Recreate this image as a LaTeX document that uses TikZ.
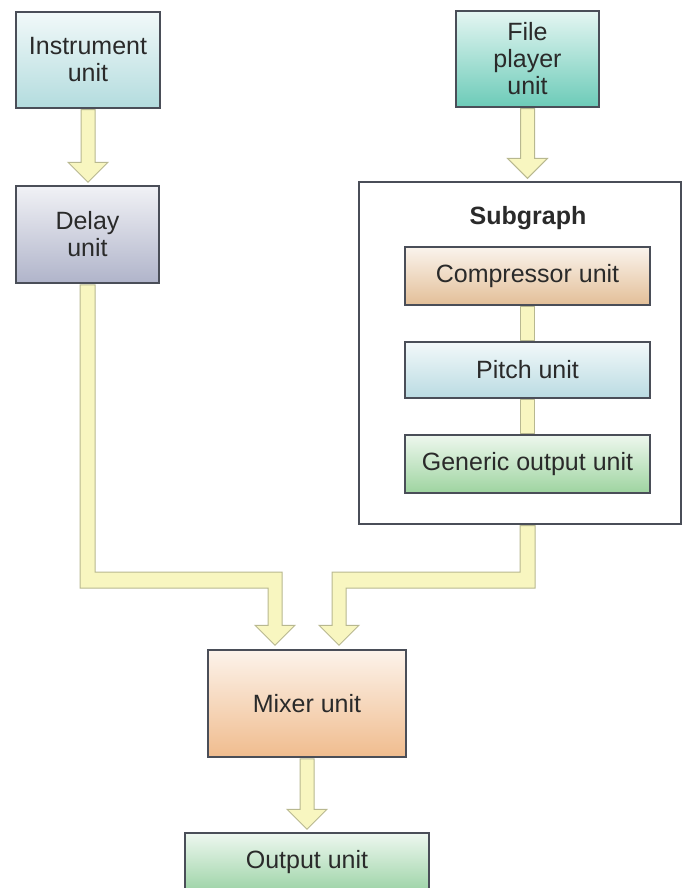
\documentclass[tikz,border=0pt]{standalone}
\usepackage{fontspec}
\setmainfont{Liberation Sans}
\usepackage{tikz}
\usetikzlibrary{calc}
\usetikzlibrary{positioning}

\definecolor{instcol}{HTML}{B3DCDE}
\definecolor{filecol}{HTML}{6CCBB8}
\definecolor{delaycol}{HTML}{B0B4CA}
\definecolor{compcol}{HTML}{E3BF98}
\definecolor{pitchcol}{HTML}{BADBE2}
\definecolor{gencol}{HTML}{9ED4A0}
\definecolor{mixcol}{HTML}{F0BC8E}
\definecolor{outcol}{HTML}{9ED4A8}
\definecolor{linkfill}{HTML}{F8F6C0}
\definecolor{linkline}{HTML}{B8B890}
\definecolor{boxline}{HTML}{4A4E58}
\definecolor{labeltext}{HTML}{2A2A2A}

\tikzset{
  unitbox/.style={draw=boxline, line width=1.5pt, top color=#1!18!white, bottom color=#1,
    inner sep=0pt, align=center, text=labeltext},
  fatlink/.style={fill=linkfill, draw=linkline, line width=1pt, line join=miter},
}

% fat downward arrow from #1 to the tip above #2
\newcommand{\fatdown}[2]{%
  \filldraw[fatlink] ($(#1)+(-7,1)$) -- ($(#1 |- #2)+(-7,-23)$) -- ($(#1 |- #2)+(-20,-23)$)
    -- ($(#1 |- #2)+(0,-3)$) -- ($(#1 |- #2)+(20,-23)$) -- ($(#1 |- #2)+(7,-23)$)
    -- ($(#1)+(7,1)$) -- cycle;}

\begin{document}
\begin{tikzpicture}[x=1pt, y=-1pt, font=\fontsize{25}{27}\selectfont]
      \useasboundingbox (0, 0) rectangle (683, 888);

      \node [unitbox=instcol, minimum width=144, minimum height=96] (inst) at (88, 60) {Instrument\\unit};
      \node [unitbox=delaycol, minimum width=143, minimum height=97] (delay) at (87.5, 234.5) {Delay\\unit};
      \node [unitbox=filecol, minimum width=143, minimum height=96] (file) at (527.5, 59) {File\\player\\unit};

      \node [draw=boxline, line width=1.2pt, fill=white, minimum width=322, minimum height=342, inner sep=0pt] (sub) at (520, 353) {};
      \node [text=labeltext, font=\fontsize{25}{27}\selectfont\bfseries] (subtitle) at (528, 218) {Subgraph};
      \node [unitbox=compcol, minimum width=245, minimum height=58] (comp) at (527.5, 276) {Compressor unit};
      \node [unitbox=pitchcol, minimum width=245, minimum height=56] (pitch) at (527.5, 370) {Pitch unit};
      \node [unitbox=gencol, minimum width=245, minimum height=58] (gen) at (527.5, 464) {Generic output unit};

      \node [unitbox=mixcol, minimum width=198, minimum height=107] (mixer) at (307, 703.5) {Mixer unit};
      \node [unitbox=outcol, minimum width=244, minimum height=58] (out) at (307, 862) {Output unit};

      \fatdown{inst.south}{delay.north}
      \fatdown{file.south}{sub.north}
      \fatdown{mixer.south}{out.north}

      % links inside the subgraph
      \filldraw [fatlink] ($(comp.south)+(-7,1)$) rectangle ($(pitch.north)+(7,-1)$);
      \filldraw [fatlink] ($(pitch.south)+(-7,1)$) rectangle ($(gen.north)+(7,-1)$);

      % merging links into the mixer
      \coordinate (bend) at (0, 580);
      \coordinate (ltip) at ($(mixer.north)+(-32,-4)$);
      \coordinate (rtip) at ($(mixer.north)+(32,-4)$);
      \coordinate (subout) at (gen.south |- sub.south);
      \filldraw [fatlink] ($(delay.south)+(-7.5,1)$) -- ($(delay.south |- bend)+(-7.5,8)$) -- ($(ltip |- bend)+(-7,8)$)
        -- ($(ltip)+(-7,-20)$) -- ($(ltip)+(-20,-20)$) -- (ltip) -- ($(ltip)+(20,-20)$) -- ($(ltip)+(7,-20)$)
        -- ($(ltip |- bend)+(7,-8)$) -- ($(delay.south |- bend)+(7.5,-8)$) -- ($(delay.south)+(7.5,1)$) -- cycle;
      \filldraw [fatlink] ($(subout)+(7.5,1)$) -- ($(subout |- bend)+(7.5,8)$) -- ($(rtip |- bend)+(7,8)$)
        -- ($(rtip)+(7,-20)$) -- ($(rtip)+(20,-20)$) -- (rtip) -- ($(rtip)+(-20,-20)$) -- ($(rtip)+(-7,-20)$)
        -- ($(rtip |- bend)+(-7,-8)$) -- ($(subout |- bend)+(-7.5,-8)$) -- ($(subout)+(-7.5,1)$) -- cycle;
    \end{tikzpicture}
\end{document}
